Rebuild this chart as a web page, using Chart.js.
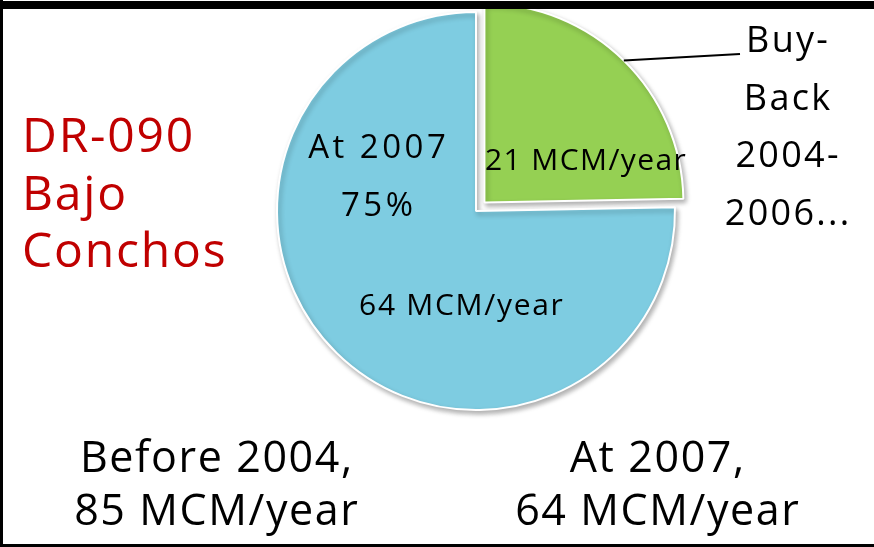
<!DOCTYPE html>
<html>
<head>
<meta charset="utf-8">
<script src="https://cdn.jsdelivr.net/npm/chart.js@4/dist/chart.umd.min.js"></script>
<style>
  html, body { margin: 0; padding: 0; background: #ffffff; }
  #wrap { position: relative; width: 874px; height: 547px; }
  canvas { display: block; }
</style>
</head>
<body>
<div id="wrap"><canvas id="c" width="874" height="547"></canvas></div>
<script>
// Water rights of district DR-090, MCM per year
const categories = ['Buy-Back 2004-2006', 'At 2007'];
const volumes = [21, 64];
const sliceLabels = ['21 MCM/year', '64 MCM/year'];
const sliceColors = ['#95d053', '#7ecce1'];
const titleLines = ['DR-090', 'Bajo', 'Conchos'];
const shareLines = ['At 2007', '75%'];
const buyBackLines = ['Buy-', 'Back', '2004-', '2006...'];
const beforeLines = ['Before 2004,', '85 MCM/year'];
const afterLines = ['At 2007,', '64 MCM/year'];

const FONT = '"Open Sans", "Noto Sans", sans-serif';

// draws lines of text on alphabetic baselines, with extra tracking
function drawLines(ctx, lines, x, base0, step, size, color, spacing, align) {
  ctx.font = '500 ' + size + 'px ' + FONT;
  ctx.fillStyle = color;
  ctx.textAlign = align || 'center';
  ctx.textBaseline = 'alphabetic';
  ctx.letterSpacing = spacing + 'px';
  const dx = (align === 'left') ? 0 : spacing / 2;
  lines.forEach((t, i) => ctx.fillText(t, x + dx, base0 + i * step));
  ctx.letterSpacing = '0px';
}

const sliceShadow = {
  id: 'sliceShadow',
  beforeDatasetsDraw(chart) {
    const ctx = chart.ctx;
    ctx.save();
    ctx.shadowColor = 'rgba(0,0,0,0.3)';
    ctx.shadowBlur = 5;
    ctx.shadowOffsetX = 2;
    ctx.shadowOffsetY = 3;
  },
  afterDatasetsDraw(chart) {
    chart.ctx.restore();
  }
};

const annotations = {
  id: 'annotations',
  afterDraw(chart) {
    const ctx = chart.ctx;
    const arcs = chart.getDatasetMeta(0).data;
    ctx.save();
    const g = arcs[0], b = arcs[1];
    // exploded slice: Chart.js shifts an arc by a quarter of its offset
    const gMid = (g.startAngle + g.endAngle) / 2;
    const gShift = (g.options.offset || 0) / 4;
    const gx = g.x + Math.cos(gMid) * gShift;
    const gy = g.y + Math.sin(gMid) * gShift;

    drawLines(ctx, [sliceLabels[0]], gx + 101, gy - 32, 0, 30, '#000', 1.4);
    drawLines(ctx, [sliceLabels[1]], b.x - 15, b.y + 104, 0, 30, '#000', 1.7);
    drawLines(ctx, shareLines, b.x - 99, b.y - 53, 58, 33, '#000', 3.5);

    // leader line from the slice edge to the buy-back note
    ctx.strokeStyle = '#000';
    ctx.lineWidth = 2;
    ctx.beginPath();
    ctx.moveTo(gx + Math.cos(gMid) * g.outerRadius, gy + Math.sin(gMid) * g.outerRadius);
    ctx.lineTo(740, 54);
    ctx.stroke();

    drawLines(ctx, buyBackLines, 787, 52, 57.5, 36, '#000', 2.3);
    drawLines(ctx, titleLines, 22, 152, 57.5, 48, '#c00000', 1.8, 'left');
    drawLines(ctx, beforeLines, 216, 472, 53, 43, '#000', 1.6);
    drawLines(ctx, afterLines, 657, 472, 53, 43, '#000', 1.6);

    // frame
    ctx.fillStyle = '#000';
    ctx.fillRect(0, 1, 874, 8);
    ctx.fillRect(0, 0, 3, 547);
    ctx.fillRect(0, 544, 874, 3);
    ctx.restore();
  }
};

new Chart(document.getElementById('c'), {
  type: 'pie',
  data: {
    labels: categories,
    datasets: [{
      data: volumes,
      backgroundColor: sliceColors,
      borderColor: '#ffffff',
      borderWidth: 2,
      offset: [48, 0],
      radius: 199
    }]
  },
  options: {
    responsive: false,
    animation: false,
    layout: { padding: { left: 276, right: 198, top: 11, bottom: 136 } },
    plugins: { legend: { display: false }, tooltip: { enabled: false } }
  },
  plugins: [sliceShadow, annotations]
});
</script>
</body>
</html>
